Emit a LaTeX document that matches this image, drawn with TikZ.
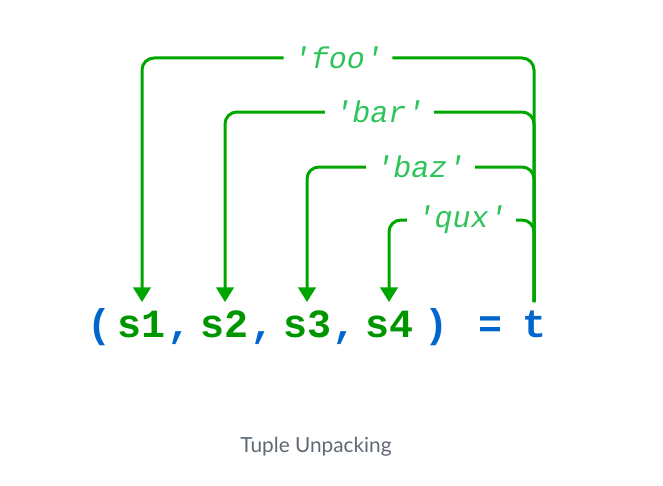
\documentclass[tikz,border=0pt]{standalone}
\usepackage{fontspec}
\setmainfont{Lato}
\newfontfamily\codefont{Liberation Mono}
\usetikzlibrary{arrows.meta}

\definecolor{codeblue}{RGB}{0,102,204}
\definecolor{codegreen}{RGB}{0,150,0}
\definecolor{linkgreen}{RGB}{0,166,0}
\definecolor{lblgreen}{RGB}{46,196,90}
\definecolor{capgray}{RGB}{95,105,115}

\begin{document}
\begin{tikzpicture}[
  x=0.75pt, y=-0.75pt,
  code/.style={anchor=base, inner sep=0pt, text height=26pt, font=\codefont\bfseries\fontsize{30}{36}\selectfont},
  var/.style={code, text=codegreen},
  punct/.style={code, text=codeblue},
  link/.style={draw=linkgreen, line width=2.25pt, rounded corners=9pt, -{Triangle[length=11pt,width=13pt]}},
  lbl/.style={fill=white, inner xsep=7pt, inner ysep=2pt, text=lblgreen, font=\codefont\itshape\fontsize{22.5}{26}\selectfont},
  caption/.style={text=capgray, font=\fontsize{15.6}{19}\selectfont}
]
\useasboundingbox (0,0) rectangle (663,485);

% Left side of the assignment
\node[punct] (lpar) at (99,337) {(};
\node[var] (s1) at (142,337) {s1};
\node[punct] (c1) at (179,337) {,};
\node[var] (s2) at (225,337) {s2};
\node[punct] (c2) at (262,337) {,};
\node[var] (s3) at (307,337) {s3};
\node[punct] (c3) at (344,337) {,};
\node[var] (s4) at (389,337) {s4};
\node[punct] (rpar) at (436,337) {)};

% Right side
\node[punct] (eq) at (490,337) {=};
\node[punct] (t) at (534,337) {t};

% Levels of the links
\coordinate (foo) at (0,58);
\coordinate (bar) at (0,112);
\coordinate (baz) at (0,167);
\coordinate (qux) at (0,220);

% Links from t to each variable
\draw[link] (t.north) -- (t.north |- foo) -- node[lbl] {'foo'} (s1.north |- foo) -- (s1.north);
\draw[link] (t.north) -- (t.north |- bar) -- node[lbl] {'bar'} (s2.north |- bar) -- (s2.north);
\draw[link] (t.north) -- (t.north |- baz) -- node[lbl] {'baz'} (s3.north |- baz) -- (s3.north);
\draw[link] (t.north) -- (t.north |- qux) -- node[lbl] {'qux'} (s4.north |- qux) -- (s4.north);

% Caption
\node[caption] (cap) at (316,447) {Tuple Unpacking};

\end{tikzpicture}
\end{document}
